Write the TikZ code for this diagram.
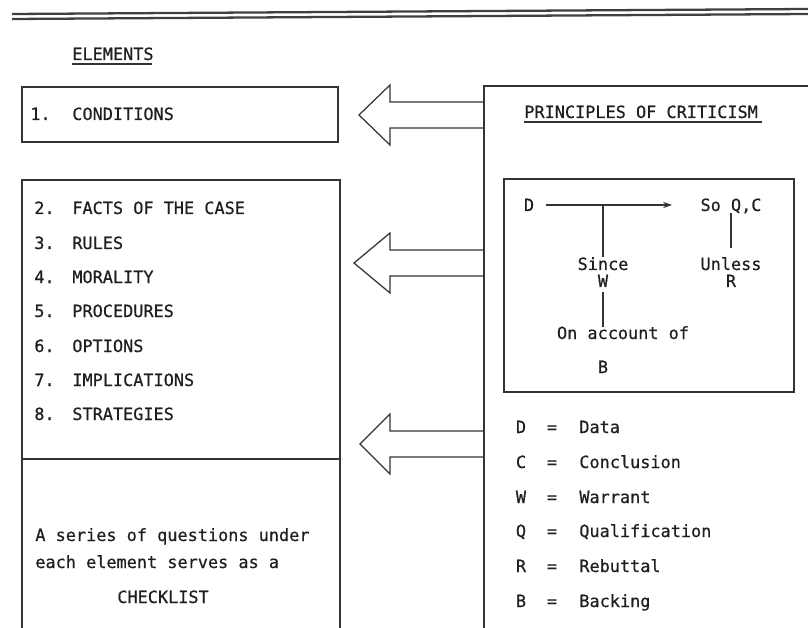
\documentclass[tikz,border=0pt]{standalone}
\usepackage{fontspec}
\setmonofont{DejaVu Sans Mono}[FakeBold=0.6]
\usetikzlibrary{arrows.meta}
\begin{document}
\begin{tikzpicture}[x=0.02cm,y=-0.02cm,
  every node/.style={font=\ttfamily\fontsize{9.6}{11}\selectfont, inner sep=0pt, text=black!88},
  ln/.style={draw=black!80, line width=0.7pt},
  lbl/.style={anchor=base west},
  clbl/.style={anchor=base}]
\useasboundingbox (0,0) rectangle (808,628);
\begin{scope}
\clip (0,0) rectangle (808,628);
% top double rule
\draw[draw=black!75, line width=1.3pt] (12,14) -- (808,9);
\draw[draw=black!75, line width=1.3pt] (12,19) -- (808,14);
% heading
\node[lbl] (elements) at (72,60) {ELEMENTS};
\draw[ln] (72,64) -- (152,64);
% box 1
\draw[ln] (22,87) rectangle (338,142);
\node[lbl] (n1) at (30,120) {1.};
\node[lbl] (t1) at (72,120) {CONDITIONS};
% box 2 with divider
\draw[ln] (22,640) -- (22,180) -- (340,180) -- (340,640);
\draw[ln] (22,459) -- (340,459);
\node[lbl] (n2) at (34,214) {2.}; \node[lbl] (t2) at (72,214) {FACTS OF THE CASE};
\node[lbl] (n3) at (34,249) {3.}; \node[lbl] (t3) at (72,249) {RULES};
\node[lbl] (n4) at (34,283) {4.}; \node[lbl] (t4) at (72,283) {MORALITY};
\node[lbl] (n5) at (34,317) {5.}; \node[lbl] (t5) at (72,317) {PROCEDURES};
\node[lbl] (n6) at (34,352) {6.}; \node[lbl] (t6) at (72,352) {OPTIONS};
\node[lbl] (n7) at (34,386) {7.}; \node[lbl] (t7) at (72,386) {IMPLICATIONS};
\node[lbl] (n8) at (34,420) {8.}; \node[lbl] (t8) at (72,420) {STRATEGIES};
\node[lbl] (q1) at (35,541) {A series of questions under};
\node[lbl] (q2) at (35,568) {each element serves as a};
\node[lbl] (q3) at (117,603) {CHECKLIST};
% right box
\draw[ln] (484,640) -- (484,86) -- (820,86);
\node[lbl] (princ) at (524,118) {PRINCIPLES OF CRITICISM};
\draw[ln] (524,122) -- (762,122);
% inner Toulmin box
\draw[ln] (504,179) rectangle (794,392);
\node[clbl] (D) at (529,211) {D};
\node[clbl] (soqc) at (731,211) {So Q,C};
\node[clbl] (since) at (603,270) {Since};
\node[clbl] (W) at (603,287) {W};
\node[clbl] (onacc) at (623,339) {On account of};
\node[clbl] (B) at (603,373) {B};
\node[clbl] (unless) at (731,270) {Unless};
\node[clbl] (R) at (731,287) {R};
\coordinate (dstart) at (546,205);
\coordinate (dend) at (672,205);
\coordinate (tj) at (603,205);
\draw[ln, -{Stealth[length=5pt,width=3.5pt]}] (dstart) -- (dend);
\draw[ln] (tj) -- (603,257);
\draw[ln] (603,292) -- (603,327);
\draw[ln] (731,213) -- (731,248);
% legend
\foreach \k/\w/\yy in {D/Data/433, C/Conclusion/468, W/Warrant/503, Q/Qualification/537, R/Rebuttal/572, B/Backing/607}{
  \node[clbl] (lk\k) at (521,\yy) {\k};
  \node[clbl] (le\k) at (552,\yy) {=};
  \node[lbl] (lw\k) at (579,\yy) {\w};
}
% block arrows
\foreach \yc/\tx in {115/359, 263/354, 444/360}{
  \draw[ln, line join=miter] (484,\yc-13) -- (390,\yc-13) -- (390,\yc-30) -- (\tx,\yc)
     -- (390,\yc+30) -- (390,\yc+13) -- (484,\yc+13);
}
\end{scope}
\end{tikzpicture}
\end{document}
